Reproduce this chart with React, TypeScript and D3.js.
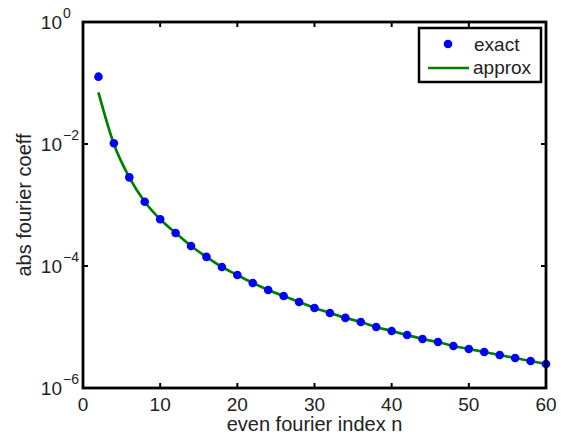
import React from "react";
import * as d3 from "d3";

const nValues = [2,4,6,8,10,12,14,16,18,20,22,24,26,28,30,32,34,36,38,40,42,44,46,48,50,52,54,56,58,60];
const exactValues = [1.27e-1,1.03e-2,2.84e-3,1.13e-3,5.83e-4,3.48e-4,2.13e-4,1.41e-4,9.63e-5,7.12e-5,5.26e-5,4.04e-5,3.22e-5,2.57e-5,2.05e-5,1.7e-5,1.41e-5,1.21e-5,1.0e-5,8.6e-6,7.39e-6,6.35e-6,5.67e-6,4.89e-6,4.36e-6,3.89e-6,3.47e-6,3.1e-6,2.77e-6,2.47e-6];
const approxValues = [7.04e-2,1.0e-2,2.84e-3,1.13e-3,5.83e-4,3.48e-4,2.13e-4,1.41e-4,9.63e-5,7.12e-5,5.26e-5,4.04e-5,3.22e-5,2.57e-5,2.05e-5,1.7e-5,1.41e-5,1.21e-5,1.0e-5,8.6e-6,7.39e-6,6.35e-6,5.67e-6,4.89e-6,4.36e-6,3.89e-6,3.47e-6,3.1e-6,2.77e-6,2.47e-6];
const xTicks = [0,10,20,30,40,50,60];
const yTickExps = [0,-2,-4,-6];
const xLabel = "even fourier index n";
const yLabel = "abs fourier coeff";
const legendLabels = ["exact", "approx"];

const W = 561, H = 436;
const L = 83, R = 546, T = 22, B = 388;
const font = "'Liberation Sans', Arial, Helvetica, sans-serif";
const txt = "#222";

export default function App() {
  const x = d3.scaleLinear().domain([0, 60]).range([L, R]);
  const y = d3.scaleLog().domain([1e-6, 1]).range([B, T]);
  const line = d3.line<number>()
    .x((_, i) => x(nValues[i]))
    .y((v) => y(v))
    .curve(d3.curveMonotoneX);
  const tl = 5;
  return (
    <svg width={W} height={H} style={{ position: "absolute", left: 0, top: 0, background: "#fff" }} fontFamily={font}>
      <rect x={0} y={0} width={W} height={H} fill="#fff" />
      <path d={line(approxValues) || ""} fill="none" stroke="#008000" strokeWidth={2.7} />
      {exactValues.map((v, i) => (
        <circle key={i} cx={x(nValues[i])} cy={y(v)} r={4.3} fill="#0000ff" />
      ))}
      {xTicks.map((t) => (
        <g key={"x" + t}>
          <line x1={x(t)} x2={x(t)} y1={B} y2={B - tl} stroke="#000" strokeWidth={2} />
          <line x1={x(t)} x2={x(t)} y1={T} y2={T + tl} stroke="#000" strokeWidth={2} />
          <text x={x(t)} y={B + 23} fontSize={19} textAnchor="middle" fill={txt}>{t}</text>
        </g>
      ))}
      {yTickExps.map((e) => {
        const yy = y(Math.pow(10, e));
        return (
          <g key={"y" + e}>
            <line x1={L} x2={L + tl} y1={yy} y2={yy} stroke="#000" strokeWidth={2} />
            <line x1={R} x2={R - tl} y1={yy} y2={yy} stroke="#000" strokeWidth={2} />
            <text x={62} y={yy + 7} fontSize={19} textAnchor="end" fill={txt}>10</text>
            <text x={63} y={yy - 4} fontSize={14} textAnchor="start" fill={txt}>
              {e === 0 ? "0" : "\u2212" + Math.abs(e)}
            </text>
          </g>
        );
      })}
      <rect x={L} y={T} width={R - L} height={B - T} fill="none" stroke="#000" strokeWidth={2.8} />
      <text x={(L + R) / 2} y={B + 43} fontSize={20} textAnchor="middle" fill={txt}>{xLabel}</text>
      <text transform={`translate(31, ${(T + B) / 2}) rotate(-90)`} fontSize={20} textAnchor="middle" fill={txt}>{yLabel}</text>
      <g>
        <rect x={419} y={28} width={122} height={54} fill="#fff" stroke="#000" strokeWidth={2.5} />
        <circle cx={448} cy={44} r={4.3} fill="#0000ff" />
        <text x={474} y={51} fontSize={19} fill={txt}>{legendLabels[0]}</text>
        <line x1={428} x2={469} y1={68} y2={68} stroke="#008000" strokeWidth={2.7} />
        <text x={473} y={74} fontSize={19} fill={txt}>{legendLabels[1]}</text>
      </g>
    </svg>
  );
}
